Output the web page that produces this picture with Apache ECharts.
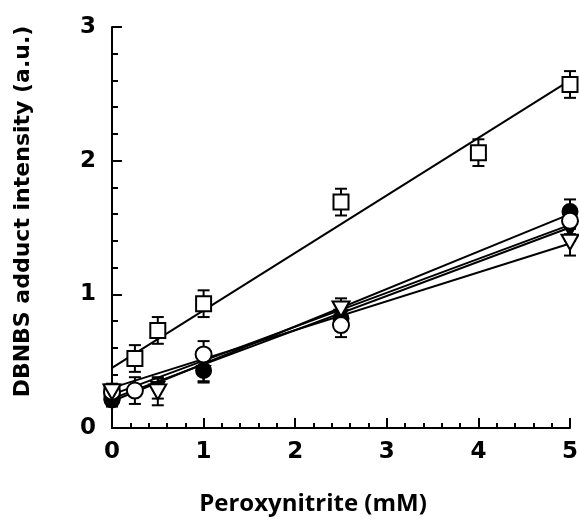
<!DOCTYPE html>
<html>
<head>
<meta charset="utf-8">
<script src="https://cdn.jsdelivr.net/npm/echarts@6/dist/echarts.min.js"></script>
<style>
  html, body { margin: 0; padding: 0; background: #fff; }
  #chart { width: 579px; height: 527px; }
</style>
</head>
<body>
<div id="chart"></div>
<script>
// values
const squareX = [0, 0.25, 0.5, 1, 2.5, 4, 5];
const squareY = [0.27, 0.52, 0.73, 0.93, 1.69, 2.06, 2.57];
const squareErr = [0.06, 0.1, 0.1, 0.1, 0.1, 0.1, 0.1];

const openCircleX = [0, 0.25, 1, 2.5, 5];
const openCircleY = [0.27, 0.28, 0.55, 0.77, 1.55];
const openCircleErr = [0.06, 0.1, 0.1, 0.09, 0.1];

const filledCircleX = [0, 1, 2.5, 5];
const filledCircleY = [0.21, 0.43, 0.82, 1.62];
const filledCircleErr = [0.05, 0.08, 0.09, 0.09];

const openTriX = [0, 0.5, 2.5, 5];
const openTriY = [0.27, 0.27, 0.89, 1.39];
const openTriErr = [0.06, 0.1, 0.08, 0.1];

const filledTriX = [0, 0.5, 1, 2.5, 5];
const filledTriY = [0.22, 0.3, 0.42, 0.84, 1.48];
const filledTriErr = [0.05, 0.08, 0.08, 0.09, 0.08];

// fitted lines, ends at x = 0 and x = 5
const fitX = [0, 5];
const squareFit = [0.45, 2.6];
const openCircleFit = [0.25, 1.52];
const filledCircleFit = [0.2, 1.6];
const openTriFit = [0.3, 1.38];
const filledTriFit = [0.22, 1.5];

const xTicks = [0, 1, 2, 3, 4, 5];
const yTicks = [0, 1, 2, 3];

const zip = (xs, ys) => xs.map((x, i) => [x, ys[i]]);
const withErr = (xs, ys, es) => xs.map((x, i) => [x, ys[i], es[i]]);

const errorBars = (data) => ({
  type: "custom",
  data: data,
  z: 3,
  renderItem: (params, api) => {
    const x = api.value(0);
    const y = api.value(1);
    const e = api.value(2);
    const top = api.coord([x, y + e]);
    const bot = api.coord([x, y - e]);
    const w = 6;
    const style = { stroke: "#000", lineWidth: 2 };
    return {
      type: "group",
      children: [
        { type: "line", shape: { x1: top[0], y1: top[1], x2: bot[0], y2: bot[1] }, style },
        { type: "line", shape: { x1: top[0] - w, y1: top[1], x2: top[0] + w, y2: top[1] }, style },
        { type: "line", shape: { x1: bot[0] - w, y1: bot[1], x2: bot[0] + w, y2: bot[1] }, style },
      ],
    };
  },
});

const fitLine = (ys) => ({
  type: "line",
  data: zip(fitX, ys),
  symbol: "none",
  z: 2,
  lineStyle: { color: "#000", width: 2 },
});

const markers = (data, symbol, filled, size) => ({
  type: "scatter",
  data: data,
  symbol: symbol,
  symbolSize: size,
  z: 5,
  itemStyle: { color: filled ? "#000" : "#fff", borderColor: "#000", borderWidth: 2, opacity: 1 },
});

const triDown = "path://M0,0 L10,0 L5,9 Z";

const chart = echarts.init(document.getElementById("chart"));
chart.setOption({
  animation: false,
  grid: { left: 112, right: 9, top: 27, bottom: 99, outerBoundsMode: "none", containLabel: false },
  xAxis: {
    type: "value",
    min: 0,
    max: 5,
    interval: 1,
    name: "Peroxynitrite (mM)",
    nameLocation: "middle",
    nameGap: 64,
    nameTextStyle: {
      fontFamily: "Open Sans",
      fontWeight: "bold",
      fontSize: 24,
      color: "#000",
      padding: [0, 56, 0, 0],
    },
    axisLine: { lineStyle: { color: "#000", width: 2 } },
    axisTick: { inside: true, length: 10, lineStyle: { color: "#000", width: 2 } },
    minorTick: { show: true, splitNumber: 5, length: 5, lineStyle: { color: "#000", width: 2 } },
    splitLine: { show: false },
    axisLabel: {
      margin: 13,
      fontFamily: "DejaVu Sans",
      fontWeight: "bold",
      fontSize: 23,
      color: "#000",
      formatter: (v) => (xTicks.includes(v) ? String(v) : ""),
    },
  },
  yAxis: {
    type: "value",
    min: 0,
    max: 3,
    interval: 1,
    name: "DBNBS adduct intensity (a.u.)",
    nameLocation: "middle",
    nameRotate: 90,
    nameGap: 78,
    nameTextStyle: {
      fontFamily: "DejaVu Sans",
      fontWeight: "bold",
      fontSize: 22,
      color: "#000",
      padding: [0, 0, 0, 32],
    },
    axisLine: { show: true, lineStyle: { color: "#000", width: 2 } },
    axisTick: { inside: true, length: 10, lineStyle: { color: "#000", width: 2 } },
    minorTick: { show: true, splitNumber: 5, length: 6, lineStyle: { color: "#000", width: 2 } },
    splitLine: { show: false },
    axisLabel: {
      margin: 16,
      fontFamily: "DejaVu Sans",
      fontWeight: "bold",
      fontSize: 23,
      color: "#000",
      formatter: (v) => (yTicks.includes(v) ? String(v) : ""),
    },
  },
  series: [
    fitLine(squareFit),
    fitLine(openCircleFit),
    fitLine(filledCircleFit),
    fitLine(openTriFit),
    fitLine(filledTriFit),
    errorBars(withErr(squareX, squareY, squareErr)),
    errorBars(withErr(openCircleX, openCircleY, openCircleErr)),
    errorBars(withErr(filledCircleX, filledCircleY, filledCircleErr)),
    errorBars(withErr(openTriX, openTriY, openTriErr)),
    errorBars(withErr(filledTriX, filledTriY, filledTriErr)),
    markers(zip(squareX, squareY), "rect", false, 15),
    markers(zip(filledTriX, filledTriY), triDown, true, [13, 12]),
    markers(zip(filledCircleX, filledCircleY), "circle", true, 15),
    markers(zip(openCircleX, openCircleY), "circle", false, 16),
    markers(zip(openTriX, openTriY), triDown, false, [17, 15]),
  ],
});
</script>
</body>
</html>
